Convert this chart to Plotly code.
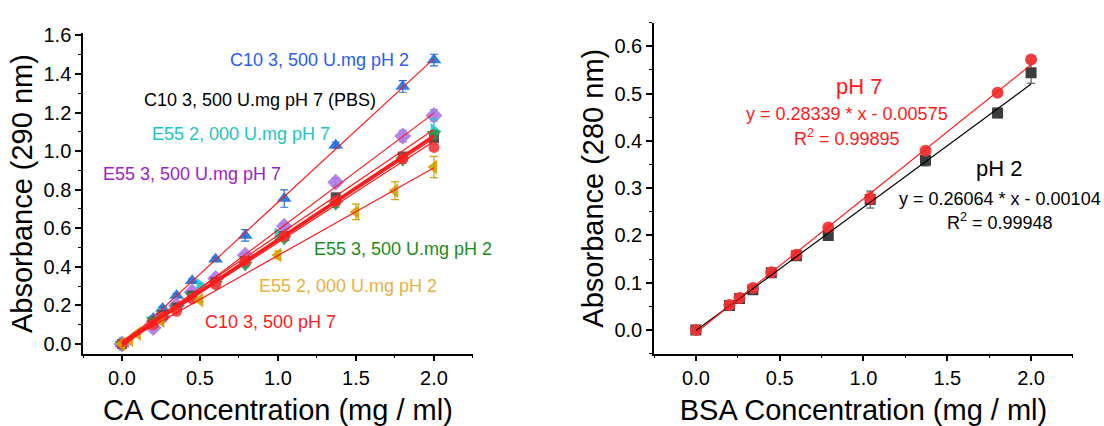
import numpy as np
import plotly.graph_objects as go

FONT = "Arial, Liberation Sans, sans-serif"

# ---------------- Left panel data (CA) ----------------
ca_x = [0, 0.2, 0.26, 0.35, 0.45, 0.6, 0.79, 1.04, 1.37, 1.8, 2.0]

c10_ph2 = [0, 0.133, 0.184, 0.252, 0.328, 0.44, 0.563, 0.754, 1.031, 1.335, 1.472]
c10_ph2_err = [0.005, 0.01, 0.01, 0.01, 0.01, 0.01, 0.03, 0.045, 0.015, 0.03, 0.03]

e55_3500_ph7 = [0, 0.085, 0.14, 0.20, 0.27, 0.34, 0.46, 0.611, 0.839, 1.078, 1.185]
e55_3500_ph7_err = [0.005, 0.005, 0.005, 0.01, 0.01, 0.01, 0.01, 0.015, 0.02, 0.03, 0.03]

c10_ph7_pbs = [0, 0.11, 0.15, 0.19, 0.25, 0.32, 0.43, 0.56, 0.761, 0.972, 1.067]
c10_ph7_pbs_err = [0.005, 0.005, 0.005, 0.005, 0.01, 0.01, 0.01, 0.01, 0.015, 0.015, 0.02]

e55_3500_ph2 = [0, 0.125, 0.145, 0.185, 0.25, 0.31, 0.41, 0.545, 0.724, 0.952, 1.087]
e55_3500_ph2_err = [0.005, 0.005, 0.005, 0.005, 0.01, 0.01, 0.01, 0.01, 0.015, 0.015, 0.02]

c10_ph7 = [0, 0.10, 0.14, 0.17, 0.234, 0.31, 0.43, 0.56, 0.74, 0.96, 1.019]
c10_ph7_err = [0.005, 0.005, 0.005, 0.005, 0.01, 0.01, 0.01, 0.01, 0.01, 0.015, 0.015]

e55_2000_ph7_x = [0, 0.25, 0.5, 1.0, 2.0]
e55_2000_ph7 = [0, 0.155, 0.305, 0.566, 1.107]
e55_2000_ph7_err = [0.005, 0.01, 0.01, 0.02, 0.06]

e55_2000_ph2_x = [0, 0.05, 0.1, 0.25, 0.5, 1.0, 1.5, 1.75, 2.0]
e55_2000_ph2 = [0, 0.022, 0.055, 0.122, 0.228, 0.462, 0.685, 0.795, 0.918]
e55_2000_ph2_err = [0.005, 0.005, 0.005, 0.005, 0.01, 0.02, 0.04, 0.046, 0.055]

ca_labels = [
    "C10 3, 500 U.mg pH 2",
    "C10 3, 500 U.mg pH 7 (PBS)",
    "E55 2, 000 U.mg pH 7",
    "E55 3, 500 U.mg pH 7",
    "E55 3, 500 U.mg pH 2",
    "E55 2, 000 U.mg pH 2",
    "C10 3, 500 pH 7",
]

# ---------------- Right panel data (BSA) ----------------
bsa_x = [0, 0.2, 0.26, 0.34, 0.45, 0.6, 0.79, 1.04, 1.37, 1.8, 2.0]
bsa_ph7 = [0, 0.053, 0.068, 0.089, 0.122, 0.159, 0.217, 0.278, 0.379, 0.502, 0.572]
bsa_ph7_err = [0.002, 0.002, 0.002, 0.002, 0.003, 0.003, 0.004, 0.012, 0.004, 0.004, 0.005]
bsa_ph2 = [0, 0.052, 0.067, 0.085, 0.121, 0.157, 0.200, 0.276, 0.359, 0.459, 0.544]
bsa_ph2_err = [0.002, 0.002, 0.002, 0.003, 0.003, 0.003, 0.005, 0.018, 0.012, 0.01, 0.022]

fit_ph7 = (0.28339, -0.00575, 0.99895)
fit_ph2 = (0.26064, -0.00104, 0.99948)

fig = go.Figure()

# (x, y, err, symbol, size, colour, fit line width)
left_series = [
    (ca_x, c10_ph2, c10_ph2_err, "triangle-up", 13, "#1e6fdc", 1.2),
    (ca_x, e55_3500_ph7, e55_3500_ph7_err, "diamond", 13, "#aa78e6", 1.2),
    (e55_2000_ph7_x, e55_2000_ph7, e55_2000_ph7_err, "triangle-right", 13, "#1ec8c8", 1.2),
    (ca_x, c10_ph7_pbs, c10_ph7_pbs_err, "square", 10, "#454545", 3.0),
    (ca_x, e55_3500_ph2, e55_3500_ph2_err, "triangle-down", 13, "#2a9650", 1.2),
    (ca_x, c10_ph7, c10_ph7_err, "circle", 11, "#f03c3c", 1.2),
    (e55_2000_ph2_x, e55_2000_ph2, e55_2000_ph2_err, "triangle-left", 13, "#d2a000", 1.2),
]

for xs, ys, err, sym, sz, col, lw in left_series:
    fig.add_trace(go.Scatter(
        x=xs, y=ys, mode="markers", xaxis="x", yaxis="y",
        marker=dict(symbol=sym, size=sz, color=col, opacity=0.9, line=dict(width=0)),
        error_y=dict(type="data", array=err, color=col, thickness=1.2, width=4),
        showlegend=False,
    ))

for xs, ys, err, sym, sz, col, lw in left_series:
    k, b = np.polyfit(xs, ys, 1)
    lx = np.array([min(xs), max(xs)])
    fig.add_trace(go.Scatter(
        x=lx, y=k * lx + b, mode="lines", xaxis="x", yaxis="y",
        line=dict(color="#ff1a1a", width=lw), showlegend=False,
    ))

# Right panel
fig.add_trace(go.Scatter(
    x=bsa_x, y=bsa_ph2, mode="markers", xaxis="x2", yaxis="y2",
    marker=dict(symbol="square", size=11, color="#3c3c3c", line=dict(width=0)),
    error_y=dict(type="data", array=bsa_ph2_err, color="#3c3c3c", thickness=1, width=4),
    showlegend=False,
))
fig.add_trace(go.Scatter(
    x=bsa_x, y=bsa_ph7, mode="markers", xaxis="x2", yaxis="y2",
    marker=dict(symbol="circle", size=12, color="#f03535", opacity=0.95, line=dict(width=0)),
    error_y=dict(type="data", array=bsa_ph7_err, color="#f03535", thickness=1, width=4),
    showlegend=False,
))
bx = np.array([min(bsa_x), max(bsa_x)])
fig.add_trace(go.Scatter(
    x=bx, y=fit_ph2[0] * bx + fit_ph2[1], mode="lines", xaxis="x2", yaxis="y2",
    line=dict(color="black", width=1.2), showlegend=False,
))
fig.add_trace(go.Scatter(
    x=bx, y=fit_ph7[0] * bx + fit_ph7[1], mode="lines", xaxis="x2", yaxis="y2",
    line=dict(color="#ff1a1a", width=1.2), showlegend=False,
))

# Annotations left
left_ann = [
    (ca_labels[0], 1.269, 1.473, "#2b5cf0"),
    (ca_labels[1], 0.885, 1.266, "black"),
    (ca_labels[2], 0.763, 1.089, "#1ec4c4"),
    (ca_labels[3], 0.446, 0.881, "#9d22c8"),
    (ca_labels[4], 1.801, 0.491, "#1a8c1a"),
    (ca_labels[5], 1.449, 0.299, "#eab040"),
    (ca_labels[6], 0.949, 0.116, "#ff1a1a"),
]
for txt, ax_, ay_, col in left_ann:
    fig.add_annotation(x=ax_, y=ay_, xref="x", yref="y", text=txt, showarrow=False,
                       font=dict(family=FONT, size=18, color=col))

def eq(fit):
    sign = "-" if fit[1] < 0 else "+"
    return f"y = {fit[0]:.5f} * x {sign} {abs(fit[1]):.5f}"

right_ann = [
    ("pH 7", 0.973, 0.514, "#ff1a1a", 22),
    (eq(fit_ph7), 0.904, 0.456, "#ff1a1a", 18),
    (f"R<sup>2</sup> = {fit_ph7[2]:.5f}", 0.904, 0.408, "#ff1a1a", 18),
    ("pH 2", 1.811, 0.342, "black", 22),
    (eq(fit_ph2), 1.814, 0.278, "black", 18),
    (f"R<sup>2</sup> = {fit_ph2[2]:.5f}", 1.814, 0.230, "black", 18),
]
for txt, ax_, ay_, col, sz in right_ann:
    fig.add_annotation(x=ax_, y=ay_, xref="x2", yref="y2", text=txt, showarrow=False,
                       font=dict(family=FONT, size=sz, color=col))

axis_common = dict(
    showline=True, linecolor="black", linewidth=1.5, mirror=False,
    ticks="outside", ticklen=6, tickwidth=1.5, tickcolor="black",
    showgrid=False, zeroline=False, tickformat=".1f",
    tickfont=dict(family=FONT, size=20, color="black"),
)

fig.update_layout(
    width=1104, height=426,
    margin=dict(l=0, r=0, t=0, b=0),
    plot_bgcolor="white", paper_bgcolor="white",
    showlegend=False,
    font=dict(family=FONT, color="black"),
    xaxis=dict(**axis_common, domain=[0.0752, 0.4284], range=[-0.25, 2.25], dtick=0.5, tick0=0,
               minor=dict(dtick=0.25, ticks="outside", ticklen=3, tickcolor="black", tickwidth=1.2),
               anchor="y",
               title=dict(text="CA Concentration (mg / ml)", font=dict(family=FONT, size=29), standoff=13)),
    yaxis=dict(**axis_common, domain=[0.1714, 0.9413], range=[-0.05, 1.61], dtick=0.2, tick0=0,
               minor=dict(dtick=0.1, ticks="outside", ticklen=3, tickcolor="black", tickwidth=1.2),
               anchor="x",
               title=dict(text="Absorbance (290 nm)", font=dict(family=FONT, size=29), standoff=2)),
    xaxis2=dict(**axis_common, domain=[0.5924, 0.9719], range=[-0.25, 2.25], dtick=0.5, tick0=0,
                minor=dict(dtick=0.25, ticks="outside", ticklen=3, tickcolor="black", tickwidth=1.2),
                anchor="y2",
                title=dict(text="BSA Concentration (mg / ml)", font=dict(family=FONT, size=29), standoff=13)),
    yaxis2=dict(**axis_common, domain=[0.1714, 0.9671], range=[-0.05, 0.65], dtick=0.1, tick0=0,
                minor=dict(dtick=0.05, ticks="outside", ticklen=3, tickcolor="black", tickwidth=1.2),
                anchor="x2",
                title=dict(text="Absorbance (280 nm)", font=dict(family=FONT, size=29), standoff=2)),
)

fig.write_html("out.html")
